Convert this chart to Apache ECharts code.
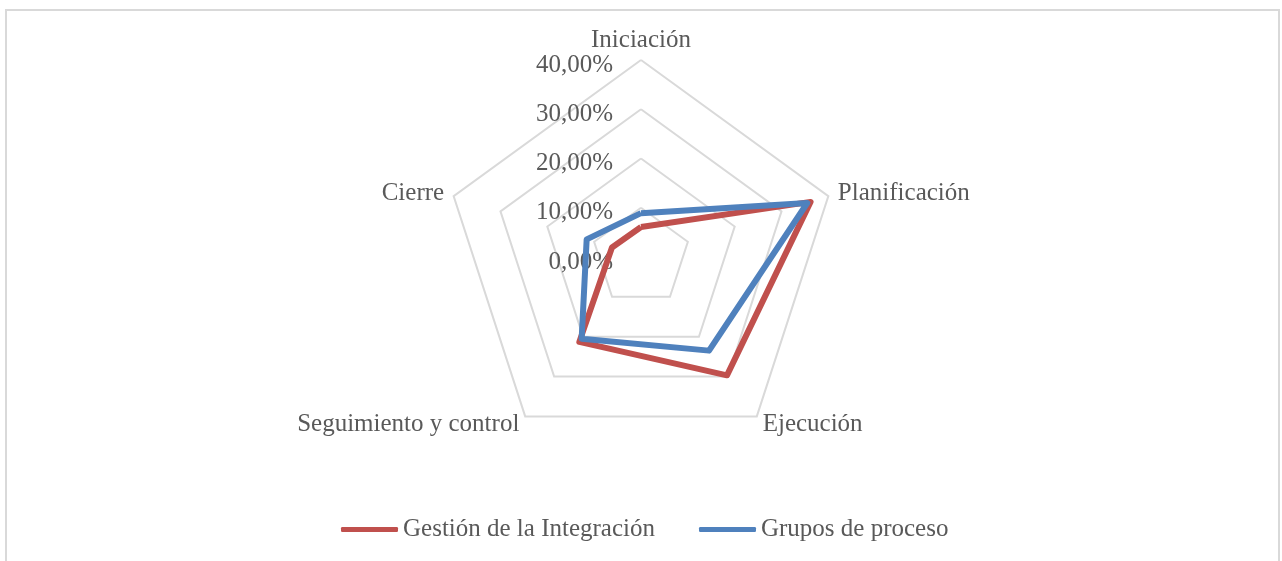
<!DOCTYPE html>
<html>
<head>
<meta charset="utf-8">
<script src="https://cdn.jsdelivr.net/npm/echarts@6/dist/echarts.min.js"></script>
<style>
  html, body { margin: 0; padding: 0; background: #fff; }
  #frame {
    position: absolute; left: 5px; top: 9px; width: 1271px; height: 560px;
    border: 2px solid #d9d9d9; border-bottom: none;
  }
  #chart { position: absolute; left: 0; top: 0; width: 1282px; height: 561px; }
</style>
</head>
<body>
<div id="frame"></div>
<div id="chart"></div>
<script>
// categorias en orden horario, empezando arriba
const categories = ['Iniciación', 'Planificación', 'Ejecución', 'Seguimiento y control', 'Cierre'];
const seriesNames = ['Gestión de la Integración', 'Grupos de proceso'];
const gestionIntegracion = [6.1, 36.2, 29.7, 21.3, 6.2];
const gruposProceso = [8.9, 35.5, 23.5, 20.5, 11.6];
const axisMax = 40;
const colors = ['#C0504D', '#4F81BD'];

const font = '"Liberation Serif", "Times New Roman", serif';
const textColor = '#595959';

// echarts dibuja el radar en sentido antihorario: se invierte el orden salvo el primero
const order = [0].concat(categories.slice(1).map((_, i) => categories.length - 1 - i));
const reorder = arr => order.map(i => arr[i]);

const fmt = v => v.toFixed(2).replace('.', ',') + '%';

const indicator = order.map((i, k) => {
  const ind = { name: categories[i], max: axisMax, min: 0 };
  if (k === 0) {
    ind.axisLabel = {
      show: true, fontFamily: font, fontSize: 25, color: textColor,
      align: 'right', verticalAlign: 'top', lineHeight: 10, margin: 28,
      formatter: fmt
    };
  }
  return ind;
});

const chart = echarts.init(document.getElementById('chart'));
chart.setOption({
  animation: false,
  color: colors,
  legend: {
    data: seriesNames,
    left: 336,
    top: 512,
    icon: 'roundRect',
    itemWidth: 57,
    itemHeight: 5,
    itemGap: 44,
    textStyle: { fontFamily: font, fontSize: 25, color: textColor }
  },
  radar: {
    center: [641, 257],
    radius: 197,
    shape: 'polygon',
    splitNumber: 4,
    indicator: indicator,
    nameGap: 10,
    axisName: { fontFamily: font, fontSize: 25, color: textColor, lineHeight: 14 },
    axisLine: { show: false },
    axisTick: { show: false },
    axisLabel: { show: false },
    splitArea: { show: false },
    splitLine: { lineStyle: { color: '#d9d9d9', width: 2 } }
  },
  series: [{
    type: 'radar',
    symbol: 'none',
    data: [
      { name: seriesNames[0], value: reorder(gestionIntegracion),
        lineStyle: { color: colors[0], width: 6 } },
      { name: seriesNames[1], value: reorder(gruposProceso),
        lineStyle: { color: colors[1], width: 6 } }
    ]
  }]
});
</script>
</body>
</html>
